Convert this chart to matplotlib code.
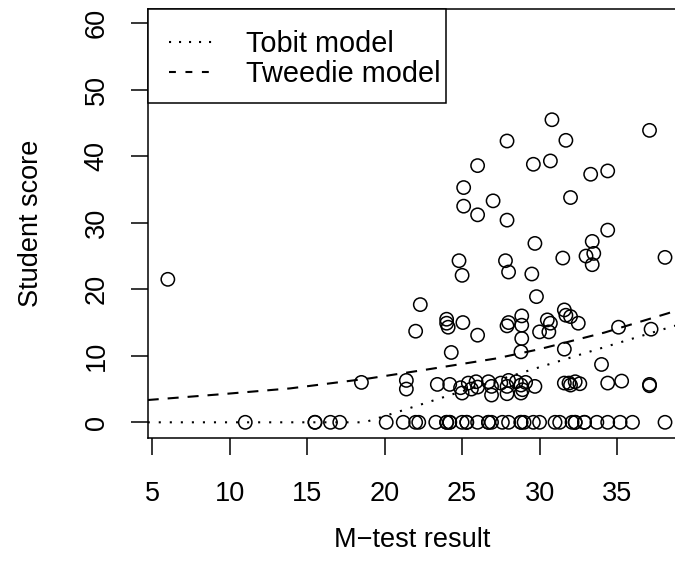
import matplotlib
matplotlib.use("Agg")
import matplotlib.pyplot as plt
from matplotlib.patches import Rectangle

plt.rcParams["font.family"] = ["Liberation Sans", "DejaVu Sans"]

# students with a score of zero
zero_x = [11.0, 15.5, 15.5, 16.5, 17.1, 20.1, 21.2, 22.0, 22.2, 23.3, 24.0, 24.0,
          24.2, 24.2, 25.0, 25.3, 25.3, 26.0, 26.7, 26.7, 26.9, 27.6, 28.0, 28.8,
          28.8, 29.0, 29.6, 30.0, 31.0, 31.3, 32.1, 32.3, 32.3, 32.9, 32.9, 33.7,
          34.4, 35.2, 36.0, 38.1]

# students with a positive score
pos_x = [6.0, 18.5, 21.4, 21.4, 22.3, 22.0, 23.4, 24.2, 24.0, 24.0, 24.1, 24.3,
         25.05, 26.0, 27.9, 28.0, 28.85, 28.85, 28.85, 28.8, 29.8, 30.0, 30.6,
         30.5, 30.7, 31.6, 31.7, 32.0, 32.5, 31.6, 34.0, 35.1, 37.2,
         30.8, 37.1, 31.7, 27.9, 29.6, 30.7, 26.0, 33.3, 34.4, 25.1, 32.0, 27.0,
         25.1, 26.0, 27.9, 34.4, 29.7, 33.4, 31.5, 33.0, 33.5, 33.4, 38.1, 24.8,
         27.8, 25.0, 28.0, 29.5,
         24.9, 25.0, 25.4, 25.6, 25.9, 26.0, 26.7, 26.9, 26.9, 27.5, 27.9, 28.0,
         27.9, 28.5, 28.8, 28.9, 28.8, 29.1, 29.7, 31.6, 31.9, 32.0, 32.3, 32.6,
         34.4, 35.3, 37.1, 37.1]
pos_y = [21.5, 6.0, 6.3, 5.0, 17.7, 13.7, 5.7, 5.7, 15.5, 14.9, 14.3, 10.5,
         15.0, 13.1, 14.5, 15.0, 16.0, 14.6, 12.6, 10.6, 18.9, 13.6, 13.6,
         15.4, 14.9, 16.9, 16.1, 15.9, 14.9, 11.0, 8.7, 14.3, 14.0,
         45.5, 43.9, 42.4, 42.3, 38.8, 39.3, 38.6, 37.3, 37.8, 35.3, 33.8, 33.3,
         32.5, 31.2, 30.4, 28.9, 26.9, 27.2, 24.7, 25.0, 25.4, 23.7, 24.8, 24.3,
         24.3, 22.1, 22.6, 22.3,
         5.2, 4.4, 5.9, 5.0, 6.1, 5.3, 6.1, 5.4, 4.1, 5.9, 5.4, 6.3,
         4.3, 6.1, 5.6, 4.9, 4.4, 6.0, 5.4, 5.9, 5.9, 5.6, 6.1, 5.8,
         5.9, 6.2, 5.7, 5.5]

# fitted curves
tobit_x = [4.7, 18.7, 20.9, 24.9, 29.05, 33.2, 38.0, 39.3]
tobit_y = [0.0, 0.0, 1.6, 4.6, 7.6, 10.6, 14.0, 14.9]
tweedie_x = [4.7, 9.6, 13.9, 19.0, 22.9, 27.2, 30.0, 34.2, 38.3, 39.3]
tweedie_y = [3.35, 4.25, 5.1, 6.6, 8.0, 9.6, 11.0, 13.5, 16.4, 17.2]

x_ticks = [5, 10, 15, 20, 25, 30, 35]
y_ticks = [0, 10, 20, 30, 40, 50, 60]

W, H = 675, 578
fig = plt.figure(figsize=(W / 100, H / 100), dpi=100)
left, right, top, bottom = 148, 683.6, 9, 438
ax = fig.add_axes([left / W, (H - bottom) / H, (right - left) / W, (bottom - top) / H])

fs = 19.5
ax.scatter(zero_x, [0] * len(zero_x), s=92, facecolors="none", edgecolors="black",
           linewidths=1.1, zorder=3)
ax.scatter(pos_x, pos_y, s=92, facecolors="none", edgecolors="black",
           linewidths=1.1, zorder=3)
ax.plot(tobit_x, tobit_y, color="black", lw=1.5, dashes=(1.0, 4.3), label="Tobit model")
ax.plot(tweedie_x, tweedie_y, color="black", lw=1.5, dashes=(5.3, 4.3), label="Tweedie model")

ax.set_xlim(4.72, 39.3)
ax.set_ylim(-2.36, 62.15)
ax.set_xticks(x_ticks)
ax.set_yticks(y_ticks)
ax.tick_params(length=12.2, width=1.1, labelsize=fs)
ax.tick_params(axis="x", pad=19)
ax.tick_params(axis="y", pad=15.5)
for lab in ax.get_yticklabels():
    lab.set_rotation(90)
    lab.set_va("center")
for sp in ax.spines.values():
    sp.set_linewidth(1.1)

ax.set_xlabel("M\u2212test result", fontsize=fs, va="center")
ax.xaxis.set_label_coords((412 - left) / (right - left), -(540 - bottom) / (bottom - top))
ax.set_ylabel("Student score", fontsize=fs, va="center")
ax.yaxis.set_label_coords(-(left - 31) / (right - left), 0.5)

# legend text and keys, with an R-style box drawn round them
leg = ax.legend(loc="upper left", fontsize=20.8, frameon=False, borderaxespad=0,
                handlelength=1.49, handletextpad=1.18, borderpad=0.73, labelspacing=0.07)
leg_lines = leg.get_lines()
leg_lines[0].set_dashes((1.0, 3.8))
leg_lines[1].set_dashes((3.3, 4.6))
box_w = (446 - left) / (right - left)
box_h = (103 - top) / (bottom - top)
ax.add_patch(Rectangle((0, 1 - box_h), box_w, box_h, transform=ax.transAxes,
                       facecolor="white", edgecolor="black", lw=1.1, zorder=4,
                       clip_on=False))
leg.set_zorder(5)

fig.savefig("out.png", dpi=100)
